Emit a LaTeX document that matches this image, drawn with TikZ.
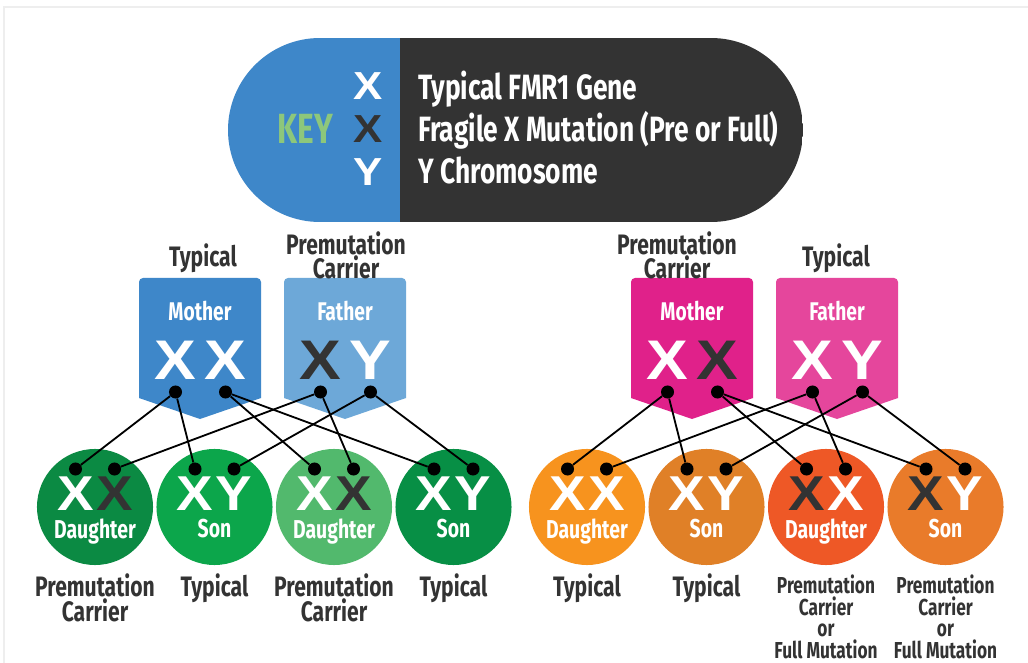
\documentclass[tikz,border=0pt]{standalone}
\usepackage{fontspec}
\setmainfont{Liberation Sans}
\newfontfamily\labelfont{Fira Sans}[FakeStretch=0.75]
\newfontfamily\chromfont{Liberation Sans}[FakeStretch=1.12]
\usetikzlibrary{positioning}

\definecolor{keyblue}{HTML}{3E87C9}
\definecolor{keydark}{HTML}{333333}
\definecolor{keygreen}{HTML}{8DC77B}
\definecolor{inkdark}{HTML}{333333}
\definecolor{framegray}{HTML}{EEEEEE}
\definecolor{lmother}{HTML}{3E87C9}
\definecolor{lfather}{HTML}{6DA8D8}
\definecolor{rmother}{HTML}{E0218A}
\definecolor{rfather}{HTML}{E5469C}
\definecolor{kidA}{HTML}{0B8A43}
\definecolor{kidB}{HTML}{0CA64B}
\definecolor{kidC}{HTML}{52B96D}
\definecolor{kidD}{HTML}{078F45}
\definecolor{kidE}{HTML}{F7931E}
\definecolor{kidF}{HTML}{E08027}
\definecolor{kidG}{HTML}{EE5826}
\definecolor{kidH}{HTML}{E97B2A}

\tikzset{
  lab/.style={inner sep=0pt, align=center, text=inkdark,
    font=\labelfont\bfseries\fontsize{20}{16.4}\selectfont},
  smalllab/.style={lab, font=\labelfont\bfseries\fontsize{16.4}{15.3}\selectfont},
  who/.style={inner sep=0pt, text=white, font=\labelfont\bfseries\fontsize{18.2}{20}\selectfont},
  kidword/.style={who, font=\labelfont\bfseries\fontsize{18.4}{20}\selectfont},
  chrom/.style={inner sep=0pt, font=\chromfont\bfseries\fontsize{39.7}{40}\selectfont},
  kidchrom/.style={chrom, font=\chromfont\bfseries\fontsize{34.8}{35}\selectfont},
  keychrom/.style={chrom, font=\chromfont\bfseries\fontsize{27.8}{28}\selectfont},
  gene/.style={circle, fill=black, inner sep=0pt, minimum size=0.325cm},
  kidcircle/.style={circle, inner sep=0pt, minimum size=2.9cm},
  wire/.style={line width=1.3pt},
}

\begin{document}
\begin{tikzpicture}[x=0.025cm, y=-0.025cm]
  \useasboundingbox (0,0) rectangle (1028,663);
  \fill[white] (0,0) rectangle (1028,663);
  \draw[framegray, line width=0.8pt] (4,663) -- (4,7) -- (1028,7);

  % key pill
  \begin{scope}
    \clip[rounded corners=2.3cm] (228,38) rectangle (803,222);
    \fill[keyblue] (228,38) rectangle (400,222);
    \fill[keydark] (400,38) rectangle (803,222);
  \end{scope}
  \node[keychrom, text=white] (key-x) at (368,86) {X};
  \node[keychrom, text=inkdark] (key-fx) at (368,129) {X};
  \node[keychrom, text=white] (key-y) at (368,172) {Y};
  \node[inner sep=0pt, text=keygreen, font=\labelfont\bfseries\fontsize{30}{30}\selectfont,
    left=0.5cm of key-fx] (key-word) {KEY};
  \node[anchor=north west, inner sep=0pt, align=left, text=white,
    font=\labelfont\bfseries\fontsize{25}{29.9}\selectfont] (key-text) at (418,71)
    {Typical FMR1 Gene\\Fragile X Mutation (Pre or Full)\\Y Chromosome};

  % parents: shield, name, two letters, two dots
  \foreach \p/\sx/\col/\who/\la/\ca/\lb/\cb in {
      lm/200/lmother/Mother/X/white/X/white,
      lf/345/lfather/Father/X/inkdark/Y/white,
      rm/692/rmother/Mother/X/white/X/inkdark,
      rf/837/rfather/Father/X/white/Y/white} {
    \fill[\col] (\sx-61,398) [rounded corners=0.1cm] -- (\sx-61,278) -- (\sx+61,278)
      -- (\sx+61,330) [sharp corners] -- (\sx+61,398) -- (\sx,419) -- cycle;
    \node[who, anchor=north] (\p-name) at (\sx,301) {\who};
    \node[chrom, text=\ca] (\p-l) at (\sx-24.5,360) {\la};
    \node[chrom, text=\cb] (\p-r) at (\sx+25.5,360) {\lb};
    \node[gene] (\p-a) at (\sx-24.5,392) {};
    \node[gene] (\p-b) at (\sx+25.5,392) {};
  }
  \node[lab, anchor=north] (lm-top) at (203,243) {Typical};
  \node[lab, anchor=north] (lf-top) at (346,231) {Premutation\\Carrier};
  \node[lab, anchor=north] (rm-top) at (677,231) {Premutation\\Carrier};
  \node[lab, anchor=north] (rf-top) at (836,243) {Typical};

  % children
  \foreach \n/\cx/\col/\la/\ca/\lb/\cb/\word in {
      1/95/kidA/X/white/X/inkdark/Daughter,
      2/214.5/kidB/X/white/Y/white/Son,
      3/334/kidC/X/white/X/inkdark/Daughter,
      4/453.5/kidD/X/white/Y/white/Son,
      5/587/kidE/X/white/X/white/Daughter,
      6/706.5/kidF/X/white/Y/white/Son,
      7/826/kidG/X/inkdark/X/white/Daughter,
      8/945.5/kidH/X/inkdark/Y/white/Son} {
    \node[kidcircle, fill=\col] (kid\n) at (\cx,507) {};
    \node[kidchrom, text=\ca] (kid\n-l) at (\cx-19.5,494) {\la};
    \node[kidchrom, text=\cb] (kid\n-r) at (\cx+19.5,494) {\lb};
    \node[kidword, anchor=north] (kid\n-w) at (\cx,519) {\word};
    \node[gene] (kid\n-dl) at (\cx-19.5,469) {};
    \node[gene] (kid\n-dr) at (\cx+19.5,469) {};
  }
  \foreach \n/\txt in {1/{Premutation\\Carrier}, 2/Typical, 3/{Premutation\\Carrier},
      4/Typical, 5/Typical, 6/Typical}
    \node[lab, below=0.2cm of kid\n] (out\n) {\txt};
  \foreach \n in {7,8}
    \node[smalllab, below=0.24cm of kid\n] (out\n) {Premutation\\Carrier\\or\\Full Mutation};

  % inheritance lines
  \foreach \a/\b in {lm-a/kid1-dl, lm-a/kid2-dl, lm-b/kid3-dl, lm-b/kid4-dl,
      lf-a/kid1-dr, lf-a/kid3-dr, lf-b/kid2-dr, lf-b/kid4-dr,
      rm-a/kid5-dl, rm-a/kid6-dl, rm-b/kid7-dl, rm-b/kid8-dl,
      rf-a/kid5-dr, rf-a/kid7-dr, rf-b/kid6-dr, rf-b/kid8-dr}
    \draw[wire] (\a) -- (\b);
\end{tikzpicture}
\end{document}
